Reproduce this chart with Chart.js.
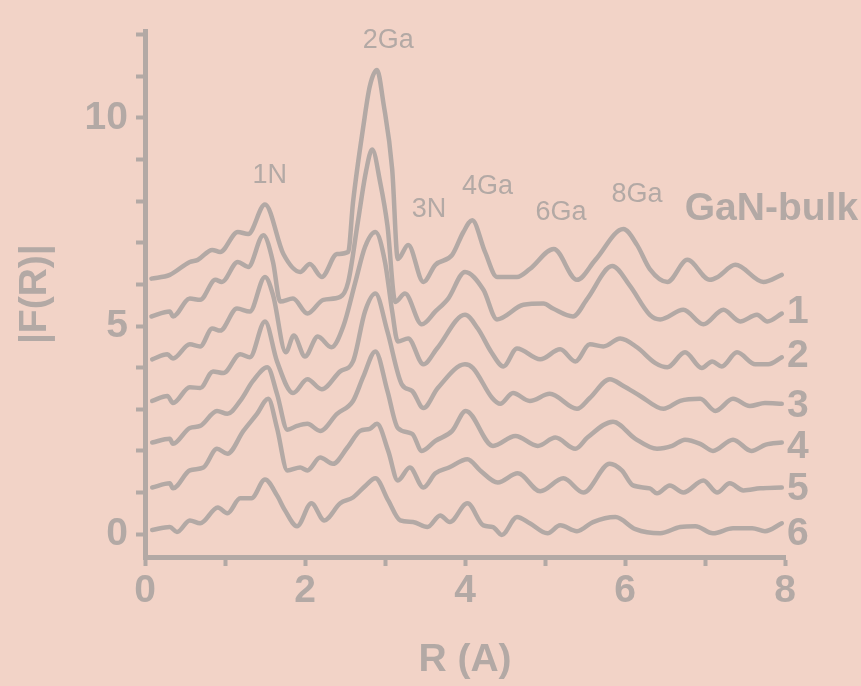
<!DOCTYPE html>
<html>
<head>
<meta charset="utf-8">
<title>|F(R)| GaN</title>
<script src="https://cdn.jsdelivr.net/npm/chart.js@4.4.1/dist/chart.umd.min.js"></script>
<style>
    html, body { margin: 0; padding: 0; background: #f2d3c7; }
    canvas { display: block; }
</style>
</head>
<body>
<canvas id="ftChart" width="861" height="686"></canvas>
<script>
// curves: [R, |F(R)| + offset]
const bulk = [
    [0.08, 6.14], [0.31, 6.23], [0.56, 6.54], [0.66, 6.59], [0.84, 6.83], [0.94, 6.78],
    [1.16, 7.26], [1.29, 7.21], [1.50, 7.92], [1.73, 6.73], [1.94, 6.30], [2.06, 6.49],
    [2.21, 6.18], [2.40, 6.73], [2.54, 6.78], [2.60, 7.97], [2.73, 9.81], [2.81, 10.76],
    [2.90, 11.15], [2.98, 10.36], [3.09, 8.76], [3.16, 6.61], [3.29, 6.95], [3.48, 6.06],
    [3.63, 6.47], [3.84, 6.71], [3.98, 7.26], [4.09, 7.54], [4.25, 6.78], [4.40, 6.18],
    [4.65, 6.18], [4.81, 6.37], [5.11, 6.85], [5.40, 6.11], [5.63, 6.59], [5.98, 7.33],
    [6.15, 6.95], [6.31, 6.37], [6.53, 6.06], [6.78, 6.59], [7.06, 6.11], [7.16, 6.18],
    [7.38, 6.47], [7.73, 6.06], [7.96, 6.23],
]
const s1 = [
    [0.08, 5.23], [0.31, 5.35], [0.35, 5.23], [0.56, 5.66], [0.69, 5.63], [0.88, 6.11],
    [0.96, 6.06], [1.16, 6.54], [1.29, 6.42], [1.48, 7.18], [1.60, 6.54], [1.69, 5.59],
    [1.85, 5.66], [2.03, 5.30], [2.23, 5.63], [2.44, 5.70], [2.54, 6.06], [2.66, 7.49],
    [2.76, 8.69], [2.84, 9.24], [2.94, 8.45], [3.03, 7.42], [3.13, 5.58], [3.25, 5.78],
    [3.46, 5.04], [3.63, 5.35], [3.79, 5.66], [4.00, 6.30], [4.23, 5.87], [4.40, 5.16],
    [4.73, 5.51], [4.98, 5.54], [5.10, 5.42], [5.35, 5.23], [5.53, 5.66], [5.84, 6.44],
    [6.06, 5.97], [6.31, 5.27], [6.44, 5.16], [6.73, 5.39], [6.98, 5.04], [7.23, 5.39],
    [7.44, 5.11], [7.65, 5.27], [7.78, 5.11], [7.96, 5.30],
]
const s2 = [
    [0.09, 4.20], [0.28, 4.32], [0.35, 4.22], [0.56, 4.56], [0.69, 4.51], [0.84, 4.94],
    [0.94, 4.89], [1.15, 5.42], [1.31, 5.35], [1.50, 6.18], [1.60, 5.75], [1.76, 4.37],
    [1.86, 4.77], [2.00, 4.27], [2.16, 4.75], [2.33, 4.49], [2.48, 5.00], [2.63, 6.06],
    [2.75, 6.90], [2.88, 7.26], [3.00, 6.54], [3.09, 5.35], [3.16, 4.63], [3.29, 4.70],
    [3.48, 4.08], [3.65, 4.46], [4.00, 5.27], [4.16, 4.94], [4.33, 4.37], [4.48, 4.03],
    [4.65, 4.46], [4.94, 4.20], [5.19, 4.44], [5.38, 4.15], [5.56, 4.56], [5.73, 4.51],
    [5.94, 4.70], [6.15, 4.49], [6.38, 4.11], [6.53, 4.01], [6.75, 4.37], [6.96, 3.99],
    [7.09, 4.15], [7.21, 4.03], [7.40, 4.37], [7.63, 4.08], [7.79, 4.08], [7.96, 4.25],
]
const s3 = [
    [0.09, 3.20], [0.28, 3.32], [0.35, 3.15], [0.56, 3.53], [0.69, 3.51], [0.85, 3.91],
    [0.98, 3.87], [1.19, 4.32], [1.31, 4.25], [1.50, 5.11], [1.65, 4.15], [1.85, 3.39],
    [2.03, 3.72], [2.21, 3.48], [2.44, 3.91], [2.60, 4.15], [2.75, 5.35], [2.88, 5.78],
    [3.03, 4.87], [3.21, 3.60], [3.34, 3.44], [3.48, 3.03], [3.66, 3.51], [4.00, 4.08],
    [4.10, 3.99], [4.34, 3.27], [4.44, 3.13], [4.60, 3.39], [4.81, 3.20], [5.06, 3.37],
    [5.40, 3.01], [5.56, 3.27], [5.81, 3.72], [5.98, 3.56], [6.19, 3.32], [6.48, 3.01],
    [6.69, 3.20], [6.94, 3.25], [7.13, 2.96], [7.35, 3.25], [7.56, 3.08], [7.75, 3.15],
    [7.96, 3.13],
]
const s4 = [
    [0.09, 2.20], [0.31, 2.29], [0.35, 2.17], [0.56, 2.55], [0.69, 2.60], [0.90, 2.96],
    [1.03, 2.89], [1.19, 3.20], [1.35, 3.68], [1.53, 4.01], [1.65, 3.37], [1.78, 2.51],
    [1.90, 2.60], [2.03, 2.65], [2.19, 2.48], [2.40, 2.89], [2.60, 3.20], [2.73, 3.79],
    [2.88, 4.39], [3.03, 3.44], [3.16, 2.55], [3.34, 2.41], [3.46, 2.00], [3.63, 2.24],
    [3.84, 2.48], [4.01, 2.96], [4.35, 2.12], [4.63, 2.36], [4.91, 2.12], [5.13, 2.32],
    [5.38, 2.05], [5.53, 2.32], [5.85, 2.70], [6.13, 2.29], [6.40, 2.05], [6.59, 2.12],
    [6.75, 2.27], [6.94, 2.17], [7.10, 2.00], [7.35, 2.27], [7.58, 2.00], [7.76, 2.15],
    [7.96, 2.20],
]
const s5 = [
    [0.09, 1.12], [0.31, 1.22], [0.35, 1.10], [0.56, 1.53], [0.73, 1.60], [0.90, 2.05],
    [1.03, 1.93], [1.23, 2.48], [1.40, 2.89], [1.54, 3.25], [1.65, 2.55], [1.78, 1.53],
    [1.94, 1.60], [2.03, 1.53], [2.19, 1.84], [2.35, 1.69], [2.53, 2.08], [2.69, 2.48],
    [2.81, 2.53], [2.90, 2.65], [3.04, 2.00], [3.16, 1.29], [3.31, 1.60], [3.48, 1.12],
    [3.63, 1.46], [3.80, 1.60], [4.03, 1.80], [4.19, 1.53], [4.41, 1.24], [4.66, 1.46],
    [4.94, 1.03], [5.23, 1.34], [5.48, 1.00], [5.81, 1.69], [5.96, 1.53], [6.10, 1.17],
    [6.31, 1.10], [6.40, 0.98], [6.56, 1.17], [6.73, 1.00], [6.98, 1.29], [7.15, 1.00],
    [7.31, 1.22], [7.48, 1.05], [7.69, 1.10], [7.96, 1.12],
]
const s6 = [
    [0.09, 0.10], [0.31, 0.17], [0.40, 0.05], [0.56, 0.33], [0.69, 0.26], [0.91, 0.64],
    [1.03, 0.50], [1.19, 0.86], [1.33, 0.86], [1.50, 1.31], [1.65, 0.93], [1.75, 0.57],
    [1.90, 0.19], [2.08, 0.74], [2.24, 0.33], [2.44, 0.74], [2.60, 0.88], [2.76, 1.17],
    [2.88, 1.34], [3.04, 0.81], [3.19, 0.33], [3.35, 0.29], [3.53, 0.17], [3.69, 0.45],
    [3.81, 0.29], [4.03, 0.74], [4.23, 0.21], [4.35, 0.17], [4.46, -0.02], [4.65, 0.41],
    [4.81, 0.26], [5.03, 0.02], [5.19, 0.21], [5.40, 0.07], [5.60, 0.29], [5.88, 0.41],
    [6.13, 0.12], [6.44, 0.02], [6.69, 0.17], [6.88, 0.19], [7.10, 0.02], [7.35, 0.14],
    [7.59, 0.14], [7.75, 0.07], [7.96, 0.26],
]

const curves = [bulk, s1, s2, s3, s4, s5, s6]
const curveNames = ["GaN-bulk", "1", "2", "3", "4", "5", "6"]
const curveLabelX = [7.83, 8.16, 8.16, 8.16, 8.16, 8.16, 8.16]
const curveLabelY = [7.80, 5.32, 4.27, 3.08, 2.08, 1.07, 0.0]

const shellNames = ["1N", "2Ga", "3N", "4Ga", "6Ga", "8Ga"]
const shellX = [1.56, 3.04, 3.55, 4.28, 5.20, 6.15]
const shellY = [8.62, 11.86, 7.80, 8.35, 7.73, 8.16]

const xTicks = [0, 1, 2, 3, 4, 5, 6, 7, 8]
const xLabels = [0, 2, 4, 6, 8]
const yTicks = [0, 1, 2, 3, 4, 5, 6, 7, 8, 9, 10, 11, 12]
const yLabels = [0, 5, 10]

const ink = "#b3a9a5"
const paper = "#f2d3c7"
const boldFont = "'Liberation Sans', Arial, sans-serif"

const paperPlugin = {
    id: "paper",
    beforeDraw(chart) {
        const { ctx, width, height } = chart
        ctx.save()
        ctx.fillStyle = paper
        ctx.fillRect(0, 0, width, height)
        ctx.restore()
    },
}

const labelPlugin = {
    id: "labels",
    afterDraw(chart) {
        const { ctx } = chart
        const xs = chart.scales.x
        const ys = chart.scales.y
        ctx.save()
        ctx.fillStyle = ink
        ctx.textAlign = "center"
        ctx.textBaseline = "middle"
        ctx.font = `27px ${boldFont}`
        shellNames.forEach((name, i) => {
            ctx.fillText(name, xs.getPixelForValue(shellX[i]), ys.getPixelForValue(shellY[i]))
        })
        ctx.font = `bold 39px ${boldFont}`
        curveNames.forEach((name, i) => {
            ctx.fillText(name, xs.getPixelForValue(curveLabelX[i]), ys.getPixelForValue(curveLabelY[i]))
        })
        ctx.restore()
    },
}

const axisGrid = {
    drawOnChartArea: false,
    drawTicks: true,
    tickLength: 9,
    tickWidth: 4,
    tickColor: ink,
}

new Chart(document.getElementById("ftChart"), {
    type: "line",
    data: {
        datasets: curves.map((pts, i) => ({
            label: curveNames[i],
            data: pts.map(([x, y]) => ({ x, y })),
            borderColor: ink,
            borderWidth: 4.5,
            pointRadius: 0,
            cubicInterpolationMode: "monotone",
            borderJoinStyle: "round",
            borderCapStyle: "round",
            fill: false,
        })),
    },
    options: {
        responsive: false,
        animation: false,
        devicePixelRatio: 1,
        layout: { padding: { top: 28, right: 76, left: 0, bottom: 0 } },
        plugins: {
            legend: { display: false },
            tooltip: { enabled: false },
        },
        scales: {
            x: {
                type: "linear",
                min: 0,
                max: 8,
                afterBuildTicks: (scale) => {
                    scale.ticks = xTicks.map((v) => ({ value: v }))
                },
                afterFit: (scale) => {
                    scale.height = 129
                },
                ticks: {
                    color: ink,
                    padding: 2,
                    autoSkip: false,
                    maxRotation: 0,
                    font: { family: boldFont, size: 39, weight: "bold" },
                    callback: (v) => (xLabels.includes(v) ? String(v) : ""),
                },
                grid: axisGrid,
                border: { display: true, width: 5, color: ink },
                title: {
                    display: true,
                    text: "R (A)",
                    color: ink,
                    font: { family: boldFont, size: 39, weight: "bold", lineHeight: 1 },
                    padding: { top: 0, bottom: 6 },
                },
            },
            y: {
                type: "linear",
                min: -0.55,
                max: 12.08,
                afterBuildTicks: (scale) => {
                    scale.ticks = yTicks.map((v) => ({ value: v }))
                },
                afterFit: (scale) => {
                    scale.width = 145
                },
                ticks: {
                    color: ink,
                    padding: 8,
                    autoSkip: false,
                    font: { family: boldFont, size: 39, weight: "bold" },
                    callback: (v) => (yLabels.includes(v) ? String(v) : ""),
                },
                grid: axisGrid,
                border: { display: true, width: 5, color: ink },
                title: {
                    display: true,
                    text: "|F(R)|",
                    color: ink,
                    font: { family: boldFont, size: 39, weight: "bold", lineHeight: 1 },
                    padding: { top: 16, bottom: 0 },
                },
            },
        },
    },
    plugins: [paperPlugin, labelPlugin],
})
</script>
</body>
</html>
